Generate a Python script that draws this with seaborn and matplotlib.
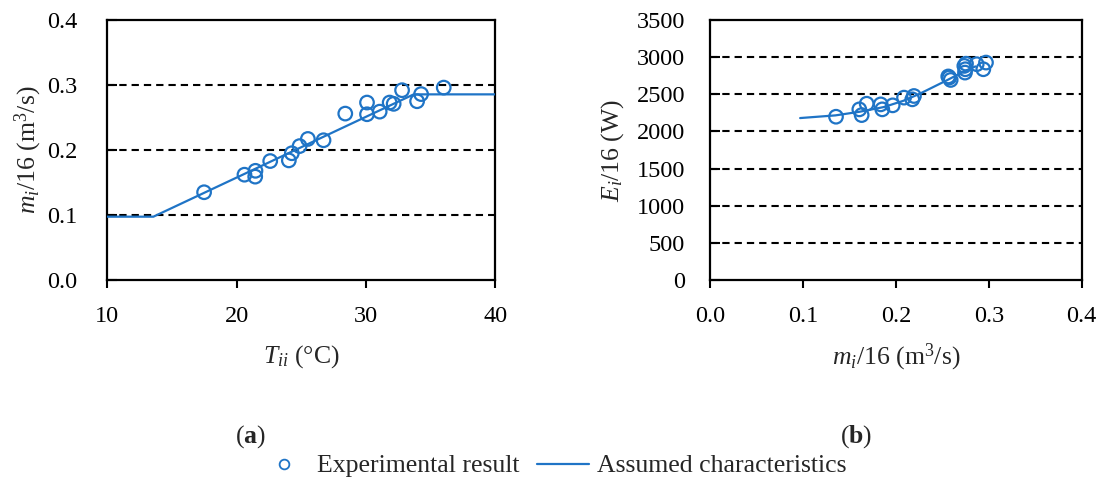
import matplotlib
matplotlib.use("Agg")
import matplotlib.pyplot as plt
from matplotlib.lines import Line2D
import seaborn as sns
import pandas as pd

# ---- data ----
left_T = [17.48, 20.60, 21.45, 21.43, 22.59, 24.03, 24.26, 24.86, 25.50, 26.71,
          28.39, 30.07, 30.07, 31.05, 31.82, 32.13, 32.78, 33.94, 34.25, 36.00]
left_m = [0.135, 0.162, 0.168, 0.159, 0.183, 0.184, 0.195, 0.206, 0.217, 0.215,
          0.256, 0.273, 0.255, 0.259, 0.273, 0.271, 0.292, 0.275, 0.286, 0.296]
char_T = [10, 13.56, 33.68, 40]
char_m = [0.0974, 0.0974, 0.2856, 0.2856]

right_m = [0.1356, 0.1607, 0.1632, 0.1686, 0.1837, 0.1854, 0.1966, 0.2088, 0.2177, 0.2195,
           0.2575, 0.2590, 0.2564, 0.2737, 0.2748, 0.2744, 0.2755, 0.2870, 0.2941, 0.2970]
right_E = [2198, 2297, 2220, 2373, 2364, 2297, 2351, 2455, 2432, 2477,
           2725, 2693, 2740, 2882, 2837, 2792, 2912, 2905, 2837, 2927]
curve_m = [0.097, 0.135, 0.161, 0.187, 0.208, 0.226, 0.255, 0.273, 0.2856]
curve_E = [2180, 2216, 2265, 2328, 2412, 2509, 2689, 2806, 2875]

left_xticks = [10, 20, 30, 40]
left_yticks = [0.0, 0.1, 0.2, 0.3, 0.4]
right_xticks = [0.0, 0.1, 0.2, 0.3, 0.4]
right_yticks = [0, 500, 1000, 1500, 2000, 2500, 3000, 3500]

legend_labels = ["Experimental result", "Assumed characteristics"]

# ---- style ----
sns.set_theme(style="white")
plt.rcParams["font.family"] = ["Liberation Serif", "DejaVu Serif"]
plt.rcParams["mathtext.fontset"] = "custom"
plt.rcParams["mathtext.rm"] = "Liberation Serif"
plt.rcParams["mathtext.it"] = "Liberation Serif:italic"
plt.rcParams["mathtext.bf"] = "Liberation Serif:bold"

BLUE = "#1f74c6"
FS_TICK = 17.5
FS_LAB = 18.5

fig = plt.figure(figsize=(10.99, 4.95), dpi=100)
axL = fig.add_axes([107.3 / 1099, 1 - 280 / 495, 388.2 / 1099, 260 / 495])
axR = fig.add_axes([710 / 1099, 1 - 280 / 495, 371.7 / 1099, 260 / 495])

dfL = pd.DataFrame({"T": left_T, "m": left_m})
dfLc = pd.DataFrame({"T": char_T, "m": char_m})
dfR = pd.DataFrame({"m": right_m, "E": right_E})
dfRc = pd.DataFrame({"m": curve_m, "E": curve_E})

for ax, yt in ((axL, left_yticks[1:-1]), (axR, right_yticks[1:-1])):
    for v in yt:
        ax.axhline(v, color="black", lw=1.5, ls=(0, (3.5, 2.4)), zorder=1)

sns.lineplot(data=dfLc, x="T", y="m", ax=axL, color=BLUE, lw=1.6,
             sort=False, estimator=None, zorder=3)
sns.scatterplot(data=dfL, x="T", y="m", ax=axL, marker="o", s=95,
                facecolors="none", edgecolor=BLUE, linewidth=1.6, zorder=4)
sns.lineplot(data=dfRc, x="m", y="E", ax=axR, color=BLUE, lw=1.6,
             sort=False, estimator=None, zorder=3)
sns.scatterplot(data=dfR, x="m", y="E", ax=axR, marker="o", s=95,
                facecolors="none", edgecolor=BLUE, linewidth=1.6, zorder=4)

axL.set_xlim(10, 40)
axL.set_ylim(0, 0.4)
axL.set_xticks(left_xticks)
axL.set_yticks(left_yticks)
axL.set_yticklabels([f"{v:.1f}" for v in left_yticks])

axR.set_xlim(0, 0.4)
axR.set_ylim(0, 3500)
axR.set_xticks(right_xticks)
axR.set_xticklabels([f"{v:.1f}" for v in right_xticks])
axR.set_yticks(right_yticks)

for ax, ypad in ((axL, 21.5), (axR, 18)):
    for s in ax.spines.values():
        s.set_visible(True)
        s.set_color("black")
        s.set_linewidth(1.6)
    ax.tick_params(axis="x", direction="out", length=6, width=1.5, pad=13,
                   labelsize=FS_TICK, colors="black", bottom=True)
    ax.tick_params(axis="y", direction="in", length=7, width=1.5, pad=ypad,
                   labelsize=FS_TICK, colors="black", left=True)
    ax.grid(False)
    ax.set_facecolor("white")

axL.set_xlabel(r"$T_{ii}$ (°C)", fontsize=FS_LAB)
axL.set_ylabel(r"$m_i$/16 (m$^3$/s)", fontsize=FS_LAB)
axR.set_xlabel(r"$m_i$/16 (m$^3$/s)", fontsize=FS_LAB)
axR.set_ylabel(r"$E_i$/16 (W)", fontsize=FS_LAB)

axL.xaxis.set_label_coords(0.5, (280 - 357) / 260)
axR.xaxis.set_label_coords(0.5, (280 - 357) / 260)
axL.yaxis.set_label_coords((28 - 107.3) / 388.2, 0.5)
axR.yaxis.set_label_coords((613 - 710) / 371.7, 0.5)
for ax in (axL, axR):
    ax.xaxis.label.set_va("center")
    ax.yaxis.label.set_va("center")

fig.text(250 / 1099, 1 - 437 / 495, r"($\mathbf{a}$)", ha="center", va="center", fontsize=FS_LAB)
fig.text(856 / 1099, 1 - 437 / 495, r"($\mathbf{b}$)", ha="center", va="center", fontsize=FS_LAB)

handles = [
    Line2D([], [], ls="none", marker="o", markersize=7, markerfacecolor="none",
           markeredgecolor=BLUE, markeredgewidth=1.3),
    Line2D([], [], color=BLUE, lw=1.6),
]
fig.legend(handles, legend_labels, loc="center", ncol=2, frameon=False,
           bbox_to_anchor=(552 / 1099, 1 - 466 / 495), fontsize=FS_LAB,
           handlelength=2.0, handletextpad=0.3, columnspacing=0.7,
           borderpad=0, borderaxespad=0)

fig.savefig("out.png", dpi=100, facecolor="white")
